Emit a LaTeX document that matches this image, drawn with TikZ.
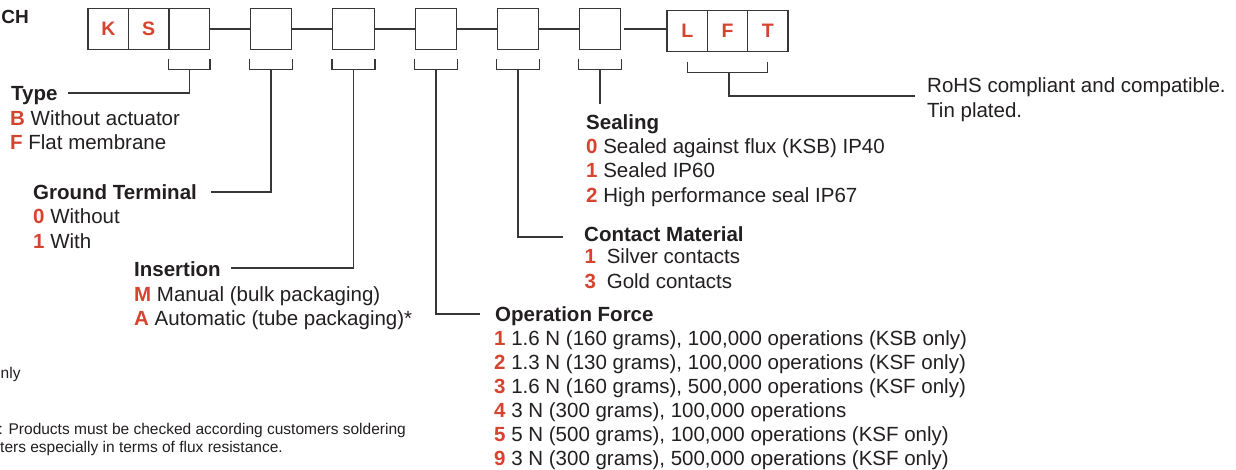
\documentclass[tikz,border=0pt]{standalone}
\usepackage{fontspec}
\setmainfont{Liberation Sans}
\usetikzlibrary{calc}
\definecolor{cred}{RGB}{214,68,48}
\definecolor{ctext}{RGB}{35,31,32}
\definecolor{cline}{RGB}{55,55,55}
\newcommand{\opt}[2]{{\bfseries\color{cred}#1} #2}
\begin{document}
\begin{tikzpicture}[x=1pt,y=-1pt,
 txt/.style={anchor=base west, inner sep=0pt, text=ctext, font=\fontsize{20.5}{24.5}\selectfont},
 head/.style={txt, font=\fontsize{20.5}{24.5}\selectfont\bfseries},
 note/.style={txt, font=\fontsize{15.5}{18}\selectfont},
 cbox/.style={draw=cline, line width=1.3pt, minimum width=41.5pt, minimum height=41pt, inner sep=0pt, text=cred, font=\fontsize{19.5}{20}\selectfont\bfseries},
 nbox/.style={cbox, minimum width=40.5pt},
 wire/.style={draw=cline, line width=1.3pt}]
\fill[white] (0,0) rectangle (1236,469);
\useasboundingbox (0,0) rectangle (1236,469);

% title fragment
\node[head, font=\fontsize{19}{20}\selectfont\bfseries, anchor=base east] (ch) at (29,23) {CH};

% code boxes
\node[nbox] (k) at (108.3,29) {K};
\node[nbox] (s) at (148.7,29) {S};
\node[nbox] (t) at (189.2,29) {};
\node[cbox] (b2) at (271,29) {};
\node[cbox] (b3) at (353.5,29) {};
\node[cbox] (b4) at (436,29) {};
\node[cbox] (b5) at (518,29) {};
\node[cbox] (b6) at (600,29) {};
\node[nbox, minimum width=40.3pt] (l) at (687.2,31) {L};
\node[nbox, minimum width=40.3pt] (f) at (727.5,31) {F};
\node[nbox, minimum width=40.3pt] (tt) at (767.8,31) {T};

% links between boxes
\draw[wire] (t.east) -- (b2.west);
\draw[wire] (b2.east) -- (b3.west);
\draw[wire] (b3.east) -- (b4.west);
\draw[wire] (b4.east) -- (b5.west);
\draw[wire] (b5.east) -- (b6.west);
\draw[wire] ([xshift=3pt]b6.east) -- (b6.east -| l.west);

% brackets
\foreach \b in {t,b2,b3,b4,b5,b6}{
  \draw[wire] ($(\b.south west)+(0,8.5)$) -- ++(0,11) -| ($(\b.south east)+(0,8.5)$);
}
\draw[wire] ($(l.south)+(0,9.5)$) -- ++(0,11) -| ($(tt.south)+(0,9.5)$);

% Type
\node[head] (type) at (11,100) {Type};
\node[txt] (type1) at (10,125) {\opt{B}{Without actuator}};
\node[txt] (type2) at (10,149) {\opt{F}{Flat membrane}};
\draw[wire] ($(t.south)+(0,19.5)$) |- ($(type.base east)+(10,-7)$);

% Ground Terminal
\node[head] (gt) at (33,199) {Ground Terminal};
\node[txt] (gt1) at (33,223) {\opt{0}{Without}};
\node[txt] (gt2) at (33,248) {\opt{1}{With}};
\draw[wire] ($(b2.south)+(0,19.5)$) |- ($(gt.base east)+(14,-7)$);

% Insertion
\node[head] (ins) at (134,276) {Insertion};
\node[txt] (ins1) at (134,301) {\opt{M}{Manual (bulk packaging)}};
\node[txt] (ins2) at (134,325) {\opt{A}{Automatic (tube packaging)*}};
\draw[wire] ($(b3.south)+(0,19.5)$) |- ($(ins.base east)+(10,-8)$);

% Operation Force
\node[head] (of) at (495,321) {Operation Force};
\node[txt] (of1) at (494,345) {\opt{1}{1.6 N (160 grams), 100,000 operations (KSB only)}};
\node[txt] (of2) at (494,369) {\opt{2}{1.3 N (130 grams), 100,000 operations (KSF only)}};
\node[txt] (of3) at (494,393) {\opt{3}{1.6 N (160 grams), 500,000 operations (KSF only)}};
\node[txt] (of4) at (494,417) {\opt{4}{3 N (300 grams), 100,000 operations}};
\node[txt] (of5) at (494,441) {\opt{5}{5 N (500 grams), 100,000 operations (KSF only)}};
\node[txt] (of6) at (494,465) {\opt{9}{3 N (300 grams), 500,000 operations (KSF only)}};
\draw[wire] ($(b4.south)+(0,19.5)$) |- ($(of.base west)+(-15,-7)$);

% Contact Material
\node[head] (cm) at (584,241) {Contact Material};
\node[txt] (cm1) at (584.5,263) {\opt{1}{\hspace{5pt}Silver contacts}};
\node[txt] (cm2) at (584.5,288) {\opt{3}{\hspace{5pt}Gold contacts}};
\draw[wire] ($(b5.south)+(0,19.5)$) |- ($(cm.base west)+(-21,-4)$);

% Sealing
\node[head] (seal) at (586,129) {Sealing};
\node[txt] (seal1) at (586,153) {\opt{0}{Sealed against flux (KSB) IP40}};
\node[txt] (seal2) at (586,177.5) {\opt{1}{Sealed IP60}};
\node[txt] (seal3) at (586,202) {\opt{2}{High performance seal IP67}};
\coordinate (sealtop) at ($(seal.base west)+(0,-25)$);
\draw[wire] ($(b6.south)+(0,19.5)$) -- (b6.south |- sealtop);

% RoHS
\node[txt] (rohs) at (927,92) {RoHS compliant and compatible.};
\node[txt] (rohs2) at (927,117) {Tin plated.};
\draw[wire] ($(f.south)+(1.5,20.5)$) |- ($(rohs.base west)+(-12,4)$);

% notes (cut at the left edge)
\node[note] (n1) at (0.5,378) {nly};
\node[note] (n2) at (-1.6,434) {: Products must be checked according customers soldering};
\node[note] (n3) at (0,452) {ters especially in terms of flux resistance.};
\end{tikzpicture}
\end{document}
